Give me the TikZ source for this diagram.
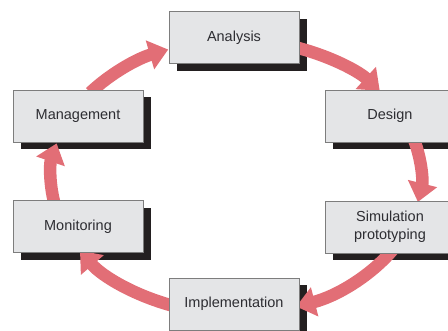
\documentclass[tikz,border=0pt]{standalone}
\usepackage{fontspec}
\setmainfont{Liberation Sans}
\usetikzlibrary{arrows.meta}
\definecolor{boxfill}{RGB}{228,229,231}
\definecolor{boxline}{RGB}{125,125,125}
\definecolor{shadowc}{RGB}{35,31,32}
\definecolor{arrowc}{RGB}{226,110,118}
\definecolor{textc}{RGB}{45,45,50}
\begin{document}
\begin{tikzpicture}[x=1pt,y=1pt,
  stagebox/.style={draw=boxline, line width=0.8pt, fill=boxfill, minimum width=130pt, minimum height=52pt, inner sep=0pt, text=textc, font=\fontsize{14.5}{18}\selectfont, align=center},
  shadowbox/.style={fill=shadowc, draw=none, minimum width=130pt, minimum height=52pt, inner sep=0pt},
  cyclearrow/.style={draw=arrowc, line width=12.5pt, -{Triangle[width=29pt,length=19pt]}},
  ell/.style={x radius=185pt, y radius=137pt}]
\useasboundingbox (0,0) rectangle (448,331);
\clip (0,0) rectangle (448,331);
% shadows
\node[shadowbox] (sa) at (241.5,286) {};
\node[shadowbox] (sd) at (397.5,207.5) {};
\node[shadowbox] (ss) at (397.5,96.5) {};
\node[shadowbox] (si) at (241.5,19.5) {};
\node[shadowbox] (so) at (85.5,97) {};
\node[shadowbox] (sm) at (85.5,207.5) {};
% arrows
\coordinate (ctr) at (236,154);
\draw[cyclearrow] ([shift={(142:185pt and 137pt)}]ctr) arc[start angle=142, end angle=111.5, ell];
\draw[cyclearrow] ([shift={(72:185pt and 137pt)}]ctr) arc[start angle=72, end angle=39, ell];
\draw[cyclearrow] ([shift={(16:185pt and 137pt)}]ctr) arc[start angle=16, end angle=-10.5, ell];
\draw[cyclearrow] ([shift={(-32:185pt and 137pt)}]ctr) arc[start angle=-32, end angle=-71, ell];
\draw[cyclearrow] ([shift={(-109:185pt and 137pt)}]ctr) arc[start angle=-109, end angle=-147.5, ell];
\draw[cyclearrow] ([shift={(192:185pt and 137pt)}]ctr) arc[start angle=192, end angle=165.8, ell];
% boxes
\node[stagebox] (analysis) at (234,293.5) {Analysis};
\node[stagebox] (design) at (390,215) {Design};
\node[stagebox] (sim) at (390,104) {Simulation\\prototyping};
\node[stagebox] (impl) at (234,27) {Implementation};
\node[stagebox] (mon) at (78,104.5) {Monitoring};
\node[stagebox] (man) at (78,215) {Management};
\end{tikzpicture}
\end{document}
